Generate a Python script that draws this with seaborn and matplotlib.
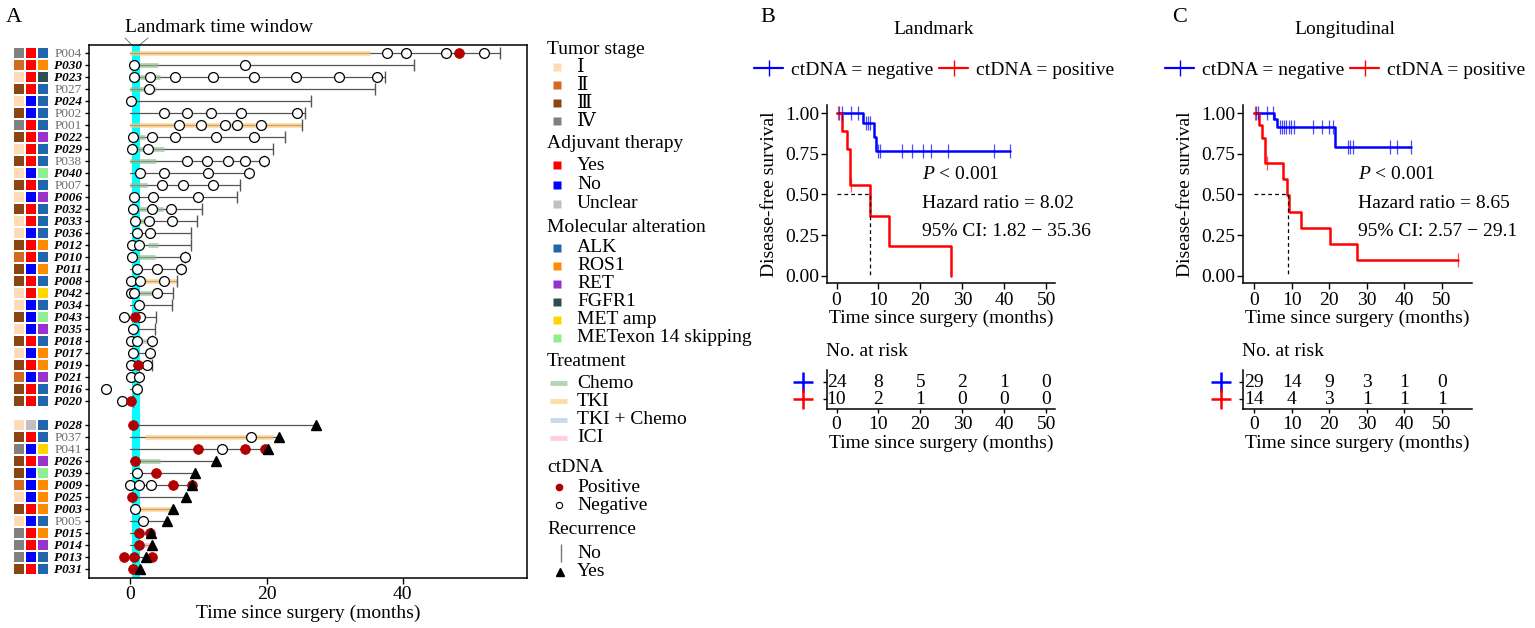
import numpy as np
import pandas as pd
import matplotlib
matplotlib.use("Agg")
import matplotlib.pyplot as plt
from matplotlib.colors import ListedColormap
from matplotlib.lines import Line2D
from matplotlib.transforms import blended_transform_factory
import seaborn as sns

# -----------------------
# Panel A: swimmer plot data
# -----------------------
patients = ["P004", "P030", "P023", "P027", "P024", "P002", "P001", "P022", "P029", "P038",
            "P040", "P007", "P006", "P032", "P033", "P036", "P012", "P010", "P011", "P008",
            "P042", "P034", "P043", "P035", "P018", "P017", "P019", "P021", "P016", "P020",
            "P028", "P037", "P041", "P026", "P039", "P009", "P025", "P003", "P005", "P015",
            "P014", "P013", "P031"]
plain_ids = ["P004", "P027", "P002", "P001", "P038", "P007", "P037", "P041", "P005"]

stage = ["IV", "II", "I", "III", "I", "III", "IV", "III", "I", "III",
         "I", "III", "I", "III", "I", "I", "III", "II", "III", "III",
         "I", "I", "III", "I", "III", "I", "III", "II", "III", "III",
         "I", "III", "IV", "III", "III", "II", "I", "III", "I", "IV",
         "IV", "IV", "III"]
adjuvant = ["Yes", "Yes", "Yes", "Yes", "No", "No", "Yes", "Yes", "Yes", "Yes",
            "No", "Yes", "No", "Yes", "Yes", "No", "Yes", "Yes", "No", "Yes",
            "Yes", "No", "No", "No", "Yes", "No", "Yes", "No", "Yes", "Yes",
            "Unclear", "Yes", "No", "Yes", "No", "No", "No", "Yes", "No", "Yes",
            "Yes", "No", "Yes"]
alteration = ["ALK", "ROS1", "FGFR1", "ALK", "ALK", "ALK", "ALK", "RET", "ALK", "ALK",
              "METex14", "ALK", "RET", "ALK", "ALK", "ALK", "ROS1", "ALK", "ROS1", "ALK",
              "MET amp", "ALK", "METex14", "RET", "ALK", "ROS1", "ROS1", "RET", "ALK", "ALK",
              "ALK", "ALK", "MET amp", "RET", "METex14", "ROS1", "ROS1", "ROS1", "ALK", "ROS1",
              "RET", "ALK", "ALK"]

followup = [54.3, 41.7, 37.4, 36.0, 26.6, 25.6, 25.2, 22.7, 20.9, 19.6,
            17.4, 16.1, 15.6, 10.5, 9.8, 8.9, 8.9, 8.0, 7.4, 6.9,
            6.3, 6.1, 3.7, 3.6, 3.2, 2.8, 3.2, 1.2, 1.0, 0.3,
            27.3, 21.9, 20.2, 12.5, 9.5, 9.1, 8.1, 6.3, 5.4, 3.0,
            3.1, 2.3, 1.4]
recurrence = [False] * 30 + [True] * 13

ctdna_neg = [
    [37.7, 40.5, 46.4, 52.0], [0.5, 16.8], [0.5, 2.9, 6.5, 12.1, 18.1, 24.3, 30.7, 36.3],
    [2.7], [0.1], [5.0, 8.3, 11.9, 16.3, 24.5], [7.1, 10.3, 13.9, 15.7, 19.2],
    [0.4, 3.2, 6.6, 12.5, 18.1], [0.2, 2.6], [8.3, 11.2, 14.4, 16.8, 19.6],
    [1.4, 4.9, 11.4, 17.4], [4.6, 7.7, 12.1], [0.5, 3.3, 9.9], [0.4, 3.2, 5.9],
    [0.7, 2.7, 6.1], [1.0, 2.8], [0.2, 1.2], [0.2, 8.0], [0.9, 3.9, 7.4],
    [0.1, 1.4, 5.0], [0.1, 0.5, 3.9], [1.2], [-1.0, 1.4], [0.4], [0.1, 0.9, 3.2],
    [0.4, 2.8], [0.1, 2.5], [0.1, 1.2], [-3.6, 1.0], [-1.3],
    [], [17.7], [13.5], [], [1.0], [0.0, 1.2, 3.0], [], [0.6], [1.8],
    [], [], [], [],
]
ctdna_pos = [
    [48.3], [], [], [], [], [], [], [], [], [],
    [], [], [], [], [], [], [], [], [], [],
    [], [], [0.7], [], [], [], [1.1], [], [], [0.1],
    [0.3], [], [9.9, 16.9, 19.8], [0.7], [3.8], [6.2, 9.0], [0.2], [], [], [1.2, 2.9],
    [1.3], [-1.0, 0.5, 3.2], [0.4],
]

tx_patient = ["P004", "P030", "P023", "P027", "P001", "P022", "P029", "P038", "P007", "P032",
              "P033", "P012", "P010", "P008", "P042", "P018", "P037", "P026", "P003", "P015",
              "P014"]
tx_kind = ["TKI", "Chemo", "Chemo", "Chemo", "TKI", "Chemo", "Chemo", "Chemo", "Chemo", "Chemo",
           "Chemo", "Chemo", "Chemo", "TKI", "Chemo", "TKI + Chemo", "TKI", "Chemo", "TKI", "ICI",
           "ICI"]
tx_start = [0.0, 0.5, 0.5, 0.0, 0.0, 0.4, 0.3, 0.0, 0.0, 0.4,
            0.7, 2.6, 0.2, 1.4, 0.5, 1.0, 2.1, 0.7, 0.6, 1.2,
            1.3]
tx_end = [35.2, 4.1, 4.3, 3.8, 25.2, 2.1, 5.0, 3.8, 2.5, 4.8,
          3.5, 4.1, 3.6, 6.9, 3.9, 3.0, 21.0, 4.3, 6.3, 3.0,
          3.1]

landmark_window = (0.15, 1.37)

stage_levels = ["I", "II", "III", "IV"]
stage_labels = ["\u2160", "\u2161", "\u2162", "\u2163"]
stage_colors = ["#FFDAB9", "#D2691E", "#8B4513", "#808080"]
adj_levels = ["Yes", "No", "Unclear"]
adj_colors = ["#FF0000", "#0000FF", "#C0C0C0"]
alt_levels = ["ALK", "ROS1", "RET", "FGFR1", "MET amp", "METex14"]
alt_labels = ["ALK", "ROS1", "RET", "FGFR1", "MET amp", "METexon 14 skipping"]
alt_colors = ["#2166AC", "#FF8C00", "#9932CC", "#2F4F4F", "#FFD700", "#90EE90"]
tx_levels = ["Chemo", "TKI", "TKI + Chemo", "ICI"]
tx_colors = ["#8FBC8F", "#FFC875", "#B0C4DE", "#FFB6C1"]

# -----------------------
# Panels B / C: Kaplan-Meier data (steps)
# -----------------------
lm_neg_time = [0, 6.4, 8.9, 9.3]
lm_neg_surv = [1.0, 0.938, 0.856, 0.769]
lm_neg_end = 41.4
lm_neg_cens = [0.55, 1.2, 3.4, 5.2, 7.0, 7.5, 7.9, 9.9, 10.3, 15.7, 17.9, 20.7, 22.5, 26.5, 37.5, 41.4]
lm_pos_time = [0, 1.2, 2.4, 3.3, 7.9, 12.6, 27.2]
lm_pos_surv = [1.0, 0.889, 0.778, 0.556, 0.370, 0.185, 0.0]
lm_pos_end = 27.2
lm_pos_cens = [0.4, 3.4]
lm_median = 7.9

lg_neg_time = [0, 5.3, 6.2, 21.5]
lg_neg_surv = [1.0, 0.966, 0.914, 0.795]
lg_neg_end = 41.8
lg_neg_cens = [0.45, 0.9, 3.3, 5.1, 6.9, 7.5, 8.0, 8.6, 9.3, 9.9, 10.5, 15.7, 18.0, 19.9, 21.0,
               25.1, 25.5, 26.4, 36.2, 38.0, 41.8]
lg_pos_time = [0, 1.3, 2.0, 2.9, 7.7, 8.8, 9.3, 12.6, 20.2, 27.5]
lg_pos_surv = [1.0, 0.926, 0.848, 0.692, 0.593, 0.494, 0.395, 0.296, 0.198, 0.099]
lg_pos_end = 54.4
lg_pos_cens = [0.3, 3.3, 54.4]
lg_median = 8.9

lm_hr, lm_ci = "8.02", ("1.82", "35.36")
lg_hr, lg_ci = "8.65", ("2.57", "29.1")

risk_times = [0, 10, 20, 30, 40, 50]
lm_risk_neg = [24, 8, 5, 2, 1, 0]
lm_risk_pos = [10, 2, 1, 0, 0, 0]
lg_risk_neg = [29, 14, 9, 3, 1, 0]
lg_risk_pos = [14, 4, 3, 1, 1, 1]

# -----------------------
# Style
# -----------------------
sns.set_style("ticks")
plt.rcParams["font.family"] = ["Liberation Serif", "DejaVu Serif", "DejaVu Sans"]
plt.rcParams["mathtext.fontset"] = "custom"
plt.rcParams["mathtext.rm"] = "Liberation Serif"
plt.rcParams["mathtext.it"] = "Liberation Serif:italic"
plt.rcParams["axes.edgecolor"] = "black"
plt.rcParams["axes.linewidth"] = 1.1
plt.rcParams["xtick.color"] = "black"
plt.rcParams["ytick.color"] = "black"
plt.rcParams["text.color"] = "black"
plt.rcParams["axes.labelcolor"] = "black"

W, H = 1535, 628
FS = 14


def rect(x0, y0, x1, y1):
    return [x0 / W, 1 - y1 / H, (x1 - x0) / W, (y1 - y0) / H]


fig = plt.figure(figsize=(W / 100, H / 100), dpi=100)
ov = fig.add_axes([0, 0, 1, 1])
ov.set_xlim(0, W)
ov.set_ylim(H, 0)
ov.axis("off")

# -----------------------
# Panel A
# -----------------------
rows = [i + (1 if recurrence[i] else 0) for i in range(len(patients))]
row_of = dict(zip(patients, rows))

axA = fig.add_axes(rect(89, 45, 527, 578))
axA.axvspan(*landmark_window, color="#00FFFF", lw=0, zorder=1)

for i, p in enumerate(patients):
    axA.plot([0, followup[i]], [rows[i], rows[i]], color="#555555", lw=0.9, zorder=2)

tx_y = [row_of[p] for p in tx_patient]
tx_c = [tx_colors[tx_levels.index(k)] for k in tx_kind]
axA.hlines(tx_y, tx_start, tx_end, colors=tx_c, lw=3.5, alpha=0.65, zorder=3)

# recurrence end markers
no_rec = [i for i in range(len(patients)) if not recurrence[i]]
yes_rec = [i for i in range(len(patients)) if recurrence[i]]
axA.plot([followup[i] for i in no_rec], [rows[i] for i in no_rec], ls="none",
         marker="|", ms=8, mew=1.0, color="#555555", zorder=4)

pts = pd.DataFrame(
    [(t, rows[i], "Negative") for i in range(len(patients)) for t in ctdna_neg[i]]
    + [(t, rows[i], "Positive") for i in range(len(patients)) for t in ctdna_pos[i]],
    columns=["time", "row", "ctDNA"])
sns.scatterplot(data=pts[pts.ctDNA == "Negative"], x="time", y="row", ax=axA, s=50,
                color="white", edgecolor="black", linewidth=0.9, zorder=5, legend=False)
sns.scatterplot(data=pts[pts.ctDNA == "Positive"], x="time", y="row", ax=axA, s=50,
                color="#B00000", edgecolor="#B00000", linewidth=0.5, zorder=6, legend=False)
axA.plot([followup[i] for i in yes_rec], [rows[i] for i in yes_rec], ls="none",
         marker="^", ms=7.5, color="black", zorder=7)

axA.set_xlim(-6.1, 58.3)
axA.set_ylim(43.78, -0.64)
axA.set_xticks([0, 20, 40])
axA.set_yticks(rows)
axA.set_yticklabels(patients)
for lab in axA.get_yticklabels():
    if lab.get_text() in plain_ids:
        lab.set_color("#6e6e6e")
    else:
        lab.set_fontweight("bold")
        lab.set_fontstyle("italic")
axA.tick_params(axis="y", length=3, width=1, pad=2, labelsize=9.5)
axA.tick_params(axis="x", length=4, width=1, pad=2, labelsize=FS)
axA.set_xlabel("Time since surgery (months)", fontsize=FS, labelpad=1)
axA.set_ylabel("")
for s in axA.spines.values():
    s.set_linewidth(1.1)

# annotation squares next to patient ids
codes = {"stage": [stage_levels.index(v) for v in stage],
         "adj": [4 + adj_levels.index(v) for v in adjuvant],
         "alt": [7 + alt_levels.index(v) for v in alteration]}
mat = np.full((max(rows) + 1, 3), np.nan)
for k, col in enumerate(["stage", "adj", "alt"]):
    mat[rows, k] = codes[col]
axH = fig.add_axes(rect(13, 45, 49, 578))
sns.heatmap(mat, ax=axH, cmap=ListedColormap(stage_colors + adj_colors + alt_colors),
            vmin=-0.5, vmax=12.5, cbar=False, linewidths=1.1, linecolor="white",
            xticklabels=False, yticklabels=False)
axH.set_ylim(max(rows) + 1.28, -0.14)
axH.set_xticks([])
axH.set_yticks([])

# landmark window label
ov.text(219, 28, "Landmark time window", ha="center", va="center", fontsize=FS)
ov.plot([125, 131.5], [38, 44.5], color="#666666", lw=0.6)
ov.plot([148, 140], [38, 44.5], color="#666666", lw=0.6)

# legend of panel A
HX, MX, TX = 547, 557, 577


def head(y, txt):
    ov.text(HX, y, txt, fontsize=FS, va="center", ha="left")


def item(y, txt):
    ov.text(TX, y, txt, fontsize=FS, va="center", ha="left")


head(49, "Tumor stage")
for k, (lab, c) in enumerate(zip(stage_labels, stage_colors)):
    y = 67 + 18 * k
    ov.plot(MX, y, "s", ms=6, color=c, mec="none")
    item(y, lab)
head(143, "Adjuvant therapy")
for k, (lab, c) in enumerate(zip(adj_levels, adj_colors)):
    y = 165 + 19.5 * k
    ov.plot(MX, y, "s", ms=6, color=c, mec="none")
    item(y, lab)
head(228, "Molecular alteration")
for k, (lab, c) in enumerate(zip(alt_labels, alt_colors)):
    y = 248 + 18 * k
    ov.plot(MX, y, "s", ms=6, color=c, mec="none")
    item(y, lab)
head(361, "Treatment")
for k, (lab, c) in enumerate(zip(tx_levels, tx_colors)):
    y = 383 + 18.3 * k
    ov.plot([550, 567], [y, y], color=c, lw=3.5, alpha=0.65, solid_capstyle="butt")
    item(y, lab)
head(468, "ctDNA")
ov.plot(559, 487, "o", ms=4.5, color="#B00000")
item(487, "Positive")
ov.plot(559, 505, "o", ms=4.5, mfc="white", mec="black", mew=0.8)
item(505, "Negative")
head(530, "Recurrence")
ov.plot(561, 553, "|", ms=13, mew=1.0, color="#777777")
item(553, "No")
ov.plot(560, 572, "^", ms=6, color="black")
item(572, "Yes")

# -----------------------
# Panels B and C
# -----------------------


def km_frame(times, surv, end, label):
    return pd.DataFrame({"time": list(times) + [end],
                         "surv": list(surv) + [surv[-1]],
                         "group": label})


def level_at(times, surv, t):
    idx = np.searchsorted(times, t, side="right") - 1
    return np.asarray(surv)[idx]


def km_panel(x0, x1, xlim, curves, median, stat_x, hr, ci, risk_neg, risk_pos,
             title, title_x, letter, letter_x, cross_frac):
    ax = fig.add_axes(rect(x0, 105, x1, 283.3))
    df = pd.concat([km_frame(c[0], c[1], c[2], c[4]) for c in curves])
    pal = {"negative": "blue", "positive": "red"}
    sns.lineplot(data=df, x="time", y="surv", hue="group", palette=pal, estimator=None,
                 sort=False, drawstyle="steps-post", lw=1.8, legend=False, ax=ax)
    for times, surv, end, cens, grp in curves:
        ax.plot(cens, level_at(times, surv, cens), ls="none", marker="|", ms=10,
                mew=0.9, color=pal[grp], alpha=0.7)
    ax.plot([0, median, median], [0.5, 0.5, 0], ls="--", dashes=(3, 2.5),
            color="black", lw=0.9)
    ax.text(stat_x, 0.62, r"$\it{P}$ < 0.001", fontsize=FS, va="center")
    ax.text(stat_x, 0.447, f"Hazard ratio = {hr}", fontsize=FS, va="center")
    ax.text(stat_x, 0.272, f"95% CI: {ci[0]} \u2212 {ci[1]}", fontsize=FS, va="center")
    ax.set_xlim(*xlim)
    ax.set_ylim(-0.047, 1.051)
    ax.set_xticks(risk_times)
    ax.set_yticks([0, 0.25, 0.5, 0.75, 1.0])
    ax.set_yticklabels(["0.00", "0.25", "0.50", "0.75", "1.00"])
    ax.tick_params(length=4, width=1, pad=2, labelsize=FS)
    ax.set_xlabel("Time since surgery (months)", fontsize=FS, labelpad=1)
    ax.set_ylabel("Disease-free survival", fontsize=FS, labelpad=5)
    sns.despine(ax=ax)
    handles = [Line2D([0], [0], color="blue", lw=1.6, marker="|", ms=12, mew=1.0),
               Line2D([0], [0], color="red", lw=1.6, marker="|", ms=12, mew=1.0)]
    ax.legend(handles, ["ctDNA = negative", "ctDNA = positive"], ncol=2, frameon=False,
              loc="center", bbox_to_anchor=(title_x / W, 1 - 70 / H),
              bbox_transform=fig.transFigure, fontsize=FS, handlelength=1.5,
              handletextpad=0.4, columnspacing=0.3, numpoints=1)
    ov.text(title_x, 30, title, ha="center", va="center", fontsize=FS)
    ov.text(letter_x, 18, letter, ha="center", va="center", fontsize=16)

    rk = fig.add_axes(rect(x0, 370, x1, 409.3))
    for t, n in zip(risk_times, risk_neg):
        rk.text(t, 2, str(n), ha="center", va="center", fontsize=FS)
    for t, n in zip(risk_times, risk_pos):
        rk.text(t, 1, str(n), ha="center", va="center", fontsize=FS)
    rk.set_xlim(*xlim)
    rk.set_ylim(0.41, 2.72)
    rk.set_xticks(risk_times)
    rk.set_yticks([1, 2])
    rk.set_yticklabels(["", ""])
    rk.tick_params(length=3, width=1, pad=2, labelsize=FS)
    rk.set_xlabel("Time since surgery (months)", fontsize=FS, labelpad=1)
    sns.despine(ax=rk)
    tr = blended_transform_factory(rk.transAxes, rk.transData)
    rk.plot([cross_frac], [2], marker="+", ms=15, mew=1.8, color="blue",
            transform=tr, clip_on=False)
    rk.plot([cross_frac], [1], marker="+", ms=15, mew=1.8, color="red",
            transform=tr, clip_on=False)
    ov.text(x0 - 1, 352, "No. at risk", ha="left", va="center", fontsize=FS)


km_panel(827.3, 1055, (-2.2, 52.1),
         [(lm_neg_time, lm_neg_surv, lm_neg_end, lm_neg_cens, "negative"),
          (lm_pos_time, lm_pos_surv, lm_pos_end, lm_pos_cens, "positive")],
         lm_median, 20.5, lm_hr, lm_ci, lm_risk_neg, lm_risk_pos,
         "Landmark", 934, "B", 768, -0.107)
km_panel(1243.3, 1471.7, (-2.9, 58.0),
         [(lg_neg_time, lg_neg_surv, lg_neg_end, lg_neg_cens, "negative"),
          (lg_pos_time, lg_pos_surv, lg_pos_end, lg_pos_cens, "positive")],
         lg_median, 27.7, lg_hr, lg_ci, lg_risk_neg, lg_risk_pos,
         "Longitudinal", 1345, "C", 1180, -0.098)

ov.text(14, 18, "A", ha="center", va="center", fontsize=16)

fig.savefig("out.png", dpi=100)
